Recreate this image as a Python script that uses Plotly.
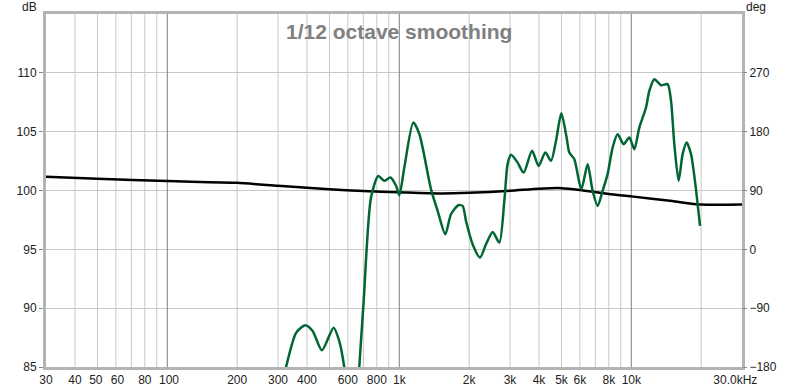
import math
import plotly.graph_objects as go

# ---- data ----
freq_black = [30, 50, 100, 200, 300, 500, 700, 1000, 1500, 2000, 3000, 4000, 5000,
              6000, 8000, 10000, 15000, 20000, 30000]
db_black = [101.16, 101.0, 100.8, 100.65, 100.4, 100.1, 99.95, 99.85, 99.75, 99.8, 99.97,
            100.15, 100.2, 100.05, 99.7, 99.5, 99.1, 98.8, 98.8]

freq_green = [300, 325, 359, 393, 423, 464, 521, 551, 579, 610, 645, 672, 702, 755, 812,
              861, 915, 968, 1000, 1051, 1149, 1220, 1370, 1463, 1579, 1670, 1796, 1874,
              1939, 2070, 2228, 2364, 2525, 2698, 2836, 2930, 3030, 3235, 3435, 3733, 3986,
              4259, 4507, 4737, 4993, 5262, 5406, 5680, 6088, 6482, 6811, 7157, 7521, 7904,
              8307, 8729, 9265, 9804, 10301, 10827, 11573, 11956, 12566, 13428, 14336,
              14831, 15324, 15995, 16642, 17318, 18088, 18880, 19776]
db_green = [82.0, 85.0, 87.9, 88.55, 88.06, 86.42, 88.34, 87.2, 85.0, 81.0, 80.0, 85.0,
            90.6, 99.4, 101.24, 100.82, 101.1, 100.4, 99.6, 101.95, 105.77, 104.8, 100.1,
            98.27, 96.28, 97.98, 98.75, 98.69, 97.4, 95.43, 94.3, 95.43, 96.48, 95.57,
            99.12, 102.24, 103.03, 102.37, 101.52, 103.37, 102.09, 103.22, 102.52, 104.22,
            106.57, 104.5, 103.22, 102.66, 100.1, 102.24, 99.97, 98.69, 99.97, 101.39,
            103.65, 104.79, 103.94, 104.5, 103.51, 105.35, 107.05, 108.47, 109.46, 108.95,
            109.04, 107.62, 103.94, 100.82, 103.09, 104.07, 103.09, 100.54, 96.99]

x_tickvals = [30, 40, 50, 60, 80, 100, 200, 300, 400, 600, 800, 1000, 2000, 3000, 4000,
              5000, 6000, 8000, 10000, 30000]
x_ticktext = ["30", "40", "50 ", " 60", "80", " 100", "200", "300", "400", "600", "800", "1k",
              "2k", "3k", "4k", "5k", "6k", "8k", "10k", "30.0kHz\u00a0\u00a0\u00a0\u00a0"]
x_minor_grid = [40, 50, 60, 70, 80, 90, 200, 300, 400, 500, 600, 700, 800, 900,
                2000, 3000, 4000, 5000, 6000, 7000, 8000, 9000, 20000]
decade_lines = [100, 1000, 10000]

db_ticks = [85, 90, 95, 100, 105, 110]
deg_ticks = [-180, -90, 0, 90, 180, 270]
db_range = [85, 115]
deg_range = [-180, 360]
x_range = [30, 30000]

fig = go.Figure()

# vertical grid (light) and decade lines (dark), built from lists
gx, gy = [], []
for f in x_minor_grid:
    gx += [f, f, None]
    gy += [db_range[0], db_range[1], None]
fig.add_trace(go.Scatter(x=gx, y=gy, mode="lines", line=dict(color="#c8c8c8", width=1),
                         hoverinfo="skip", showlegend=False))
dx, dy = [], []
for f in decade_lines:
    dx += [f, f, None]
    dy += [db_range[0], db_range[1], None]
fig.add_trace(go.Scatter(x=dx, y=dy, mode="lines", line=dict(color="#808080", width=1),
                         hoverinfo="skip", showlegend=False))

fig.add_trace(go.Scatter(x=freq_black, y=db_black, mode="lines",
                         line=dict(color="#000000", width=2.5, shape="spline", smoothing=0.6),
                         showlegend=False))
fig.add_trace(go.Scatter(x=freq_green, y=db_green, mode="lines",
                         line=dict(color="#006633", width=2.5, shape="spline", smoothing=0.7),
                         showlegend=False))
# invisible trace to show the right axis
fig.add_trace(go.Scatter(x=[x_range[0]], y=[None], yaxis="y2", mode="lines",
                         showlegend=False, hoverinfo="skip"))

tick_font = dict(family="Liberation Sans, Arial, sans-serif", size=12, color="#222222")

fig.update_layout(
    width=800, height=390,
    margin=dict(l=46, r=58, t=14, b=23),
    paper_bgcolor="white", plot_bgcolor="white",
    hovermode=False,
    xaxis=dict(type="log", range=[math.log10(x_range[0]), math.log10(x_range[1])],
               tickvals=x_tickvals, ticktext=x_ticktext, tickfont=tick_font,
               showgrid=False, zeroline=False, showline=True, mirror=True,
               linecolor="#b4b4b4", linewidth=3, ticks="", tickangle=0,
               automargin=False),
    yaxis=dict(range=db_range, tickvals=db_ticks, tickfont=tick_font,
               showgrid=True, gridcolor="#c8c8c8", gridwidth=1, zeroline=False,
               showline=True, mirror=True, linecolor="#b4b4b4", linewidth=3,
               ticks="outside", ticklen=4, tickcolor="#888888", automargin=False),
    yaxis2=dict(range=deg_range, tickvals=deg_ticks, tickfont=tick_font,
                overlaying="y", side="right", showgrid=False, zeroline=False,
                showline=False, ticks="outside", ticklen=4, tickcolor="#888888",
                automargin=False),
    annotations=[
        dict(text="<b>1/12 octave smoothing</b>", xref="paper", yref="paper",
             x=0.507, y=0.988, xanchor="center", yanchor="top", showarrow=False,
             font=dict(family="Liberation Sans, Arial, sans-serif", size=21, color="#808080")),
        dict(text="dB", xref="paper", yref="paper", x=-0.01, y=1.0, xanchor="right",
             yanchor="bottom", showarrow=False, yshift=-2,
             font=dict(family="Liberation Sans, Arial, sans-serif", size=12, color="#222222")),
        dict(text="deg", xref="paper", yref="paper", x=1.0, y=1.0, xanchor="left",
             yanchor="bottom", showarrow=False, xshift=2, yshift=-2,
             font=dict(family="Liberation Sans, Arial, sans-serif", size=12, color="#222222")),
    ],
)

fig.write_html("out.html", config={"displayModeBar": False},
               post_script="document.body.style.margin='0';document.body.style.overflow='hidden';")
